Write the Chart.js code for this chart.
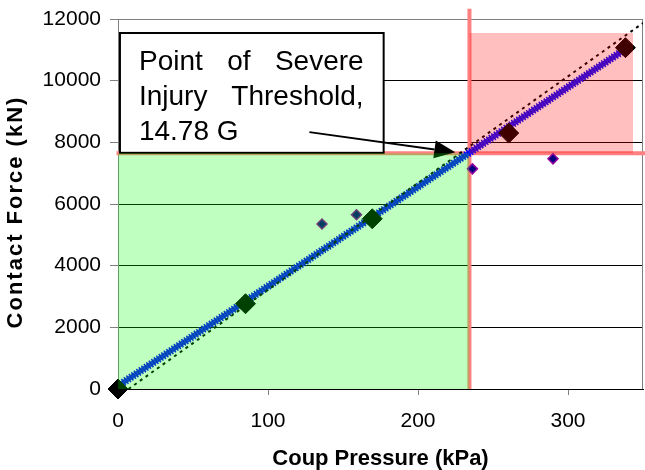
<!DOCTYPE html>
<html><head><meta charset="utf-8">
<script src="https://cdn.jsdelivr.net/npm/chart.js@4/dist/chart.umd.min.js"></script>
<style>html,body{margin:0;padding:0;background:#fff;}#wrap{width:645px;height:470px;}</style>
</head><body><div id="wrap"><canvas id="c" width="645" height="470"></canvas></div>
<script>
// ---- data ----
const xTicks = [0, 100, 200, 300];
const yTicks = [0, 2000, 4000, 6000, 8000, 10000, 12000];
const measuredX = [0, 85, 169.5, 260.5, 338.3];
const measuredY = [0, 2765, 5520, 8300, 11070];
const scatterX = [136, 159, 236.3, 290];
const scatterY = [5350, 5650, 7140, 7465];
const fitX = [0, 336];
const fitY = [100, 10950];
const trendX = [7, 350];
const trendY = [0, 11870];
const thresholdX = 234.3;
const thresholdY = 7650;
const dangerZoneX = [234.3, 343.4];
const dangerZoneTop = 11550;
const thresholdLineTop = 12330;
const thresholdLineX = [-1, 360];
const calloutLines = ["Point of Severe", "Injury Threshold,", "14.78 G"];
const calloutBox = {x0: 1.3, y0: 11546, x1: 177.1, y1: 7660};
const arrowFrom = {x: 127.6, y: 8331};
const arrowTo = {x: 224.9, y: 7676};
const xTitle = 'Coup Pressure (kPa)';
const yTitle = 'Contact Force (kN)';

const pts = (xs, ys) => xs.map((x, i) => ({x: x, y: ys[i]}));
const FONT = '"Liberation Sans", Arial, sans-serif';
Chart.defaults.font.family = FONT;
Chart.defaults.color = '#000';
const noPadding = () => ({left: 0, top: 0, right: 0, bottom: 0});

function drawCallout(chart) {
  const {ctx, scales: {x, y}} = chart;
  const L = x.getPixelForValue(calloutBox.x0), R = x.getPixelForValue(calloutBox.x1);
  const T = y.getPixelForValue(calloutBox.y0), B = y.getPixelForValue(calloutBox.y1);
  ctx.save();
  ctx.fillStyle = '#fff';
  ctx.fillRect(L, T, R - L, B - T);
  ctx.lineWidth = 2; ctx.strokeStyle = '#000';
  ctx.strokeRect(L, T, R - L, B - T);
  ctx.font = '28px ' + FONT;
  ctx.fillStyle = '#000';
  ctx.textBaseline = 'alphabetic';
  const left = L + 19, right = R - 20;
  const baselines = [37.5, 72.5, 106.8];
  calloutLines.forEach((line, i) => {
    const yb = T + baselines[i];
    if (i === calloutLines.length - 1) { ctx.fillText(line, left, yb); return; }
    const words = line.split(' ');
    const widths = words.map(w => ctx.measureText(w).width);
    const total = widths.reduce((a, b) => a + b, 0);
    const gap = (right - left - total) / (words.length - 1);
    let cx = left;
    words.forEach((w, j) => { ctx.fillText(w, cx, yb); cx += widths[j] + gap; });
  });
  const x0 = x.getPixelForValue(arrowFrom.x), y0 = y.getPixelForValue(arrowFrom.y);
  const x1 = x.getPixelForValue(arrowTo.x), y1 = y.getPixelForValue(arrowTo.y);
  const dx = x1 - x0, dy = y1 - y0, len = Math.hypot(dx, dy);
  const ux = dx / len, uy = dy / len;
  const hl = 21, hw = 9;
  const bx = x1 - ux * hl, by = y1 - uy * hl;
  ctx.beginPath(); ctx.moveTo(x0, y0); ctx.lineTo(bx, by);
  ctx.lineWidth = 2; ctx.stroke();
  ctx.beginPath();
  ctx.moveTo(x1, y1);
  ctx.lineTo(bx - uy * hw, by + ux * hw);
  ctx.lineTo(bx + uy * hw, by - ux * hw);
  ctx.closePath(); ctx.fill();
  ctx.restore();
}

const calloutPlugin = {
  id: 'callout',
  beforeDatasetsDraw(chart) {
    const {ctx, chartArea: a} = chart;
    ctx.save();
    ctx.strokeStyle = '#808080'; ctx.lineWidth = 1;
    ctx.beginPath();
    ctx.moveTo(Math.round(a.right) - 0.5, a.top);
    ctx.lineTo(Math.round(a.right) - 0.5, a.bottom);
    ctx.stroke();
    ctx.restore();
  },
  afterDatasetDraw(chart, args) {
    if (chart.data.datasets[args.index].label === 'thresholdH') drawCallout(chart);
  },
  afterDraw(chart) {
    const {ctx, chartArea: a} = chart;
    ctx.save();
    ctx.font = 'bold 22px ' + FONT;
    if ('letterSpacing' in ctx) ctx.letterSpacing = '2px';
    ctx.fillStyle = '#000';
    ctx.textAlign = 'center';
    ctx.textBaseline = 'middle';
    ctx.translate(16, (a.top + a.bottom) / 2 + 9);
    ctx.rotate(-Math.PI / 2);
    ctx.fillText(yTitle, 1, 0);
    ctx.restore();
  }
};

new Chart(document.getElementById('c'), {
  type: 'line',
  data: {
    datasets: [
      {label: 'danger', data: [{x: dangerZoneX[0], y: dangerZoneTop}, {x: dangerZoneX[1], y: dangerZoneTop}],
        fill: {value: thresholdY}, backgroundColor: 'rgba(255,0,0,0.25)', borderWidth: 0, borderColor: 'rgba(0,0,0,0)', pointRadius: 0, order: 0},
      {label: 'safe', data: [{x: 0, y: thresholdY}, {x: thresholdX, y: thresholdY}],
        fill: 'origin', backgroundColor: 'rgba(0,255,0,0.25)', borderWidth: 0, borderColor: 'rgba(0,0,0,0)', pointRadius: 0, order: 1},
      {label: 'measured', data: pts(measuredX, measuredY), showLine: false, pointStyle: 'rectRot', pointRadius: 10,
        pointBackgroundColor: '#000', pointBorderColor: '#000', pointBorderWidth: 1, clip: false, order: 2},
      {label: 'scatter', data: pts(scatterX, scatterY), showLine: false, pointStyle: 'rectRot', pointRadius: 5,
        pointBackgroundColor: '#000080', pointBorderColor: '#9000A0', pointBorderWidth: 1.5, clip: false, order: 3},
      {label: 'trend', data: pts(trendX, trendY), borderColor: '#000', borderWidth: 2, borderDash: [3, 4], pointRadius: 0, order: 4},
      {label: 'fitTexture', data: pts(fitX, fitY), borderColor: '#0000FF', borderWidth: 8, borderDash: [1.5, 1.5], pointRadius: 0, order: 5},
      {label: 'fit', data: pts(fitX, fitY), borderColor: '#1A1AFF', borderWidth: 5, pointRadius: 0, order: 6},
      {label: 'thresholdV', data: [{x: thresholdX, y: 0}, {x: thresholdX, y: thresholdLineTop}],
        borderColor: '#FF8080', borderWidth: 4, pointRadius: 0, clip: false, order: 7},
      {label: 'thresholdH', data: [{x: thresholdLineX[0], y: thresholdY}, {x: thresholdLineX[1], y: thresholdY}],
        borderColor: '#FF8080', borderWidth: 4, pointRadius: 0, clip: false, order: 8}
    ]
  },
  options: {
    responsive: false, animation: false, devicePixelRatio: 1,
    layout: {autoPadding: false, padding: {top: 19, right: 2, left: 0, bottom: 0}},
    elements: {line: {tension: 0}},
    plugins: {legend: {display: false}, tooltip: {enabled: false}},
    scales: {
      x: {
        type: 'linear', min: 0, max: 350,
        afterBuildTicks: s => { s.ticks = xTicks.map(v => ({value: v})); },
        afterFit: s => { s.height = 81; s.paddingLeft = 0; s.paddingRight = 0; s.getPadding = noPadding; },
        ticks: {font: {size: 21}, color: '#000', padding: 14, callback: v => String(v), maxRotation: 0},
        grid: {drawOnChartArea: false, drawTicks: true, tickLength: 6, tickColor: '#808080'},
        border: {display: true, color: '#000', width: 1},
        title: {display: true, text: xTitle, font: {size: 22, weight: 'bold', lineHeight: 1}, color: '#000', padding: {top: 0, bottom: 0}}
      },
      y: {
        type: 'linear', min: 0, max: 12000,
        afterBuildTicks: s => { s.ticks = yTicks.map(v => ({value: v})); },
        afterFit: s => { s.width = 118; s.paddingTop = 0; s.paddingBottom = 0; s.getPadding = noPadding; },
        ticks: {font: {size: 21}, color: '#000', padding: 9, callback: v => String(v)},
        grid: {drawOnChartArea: true, drawTicks: true, tickLength: 8, tickColor: '#808080',
          color: c => (c.tick && c.tick.value === 12000) ? '#808080' : '#000'},
        border: {display: true, color: '#808080', width: 1},
        title: {display: false, text: yTitle}
      }
    }
  },
  plugins: [calloutPlugin]
});
</script></body></html>
